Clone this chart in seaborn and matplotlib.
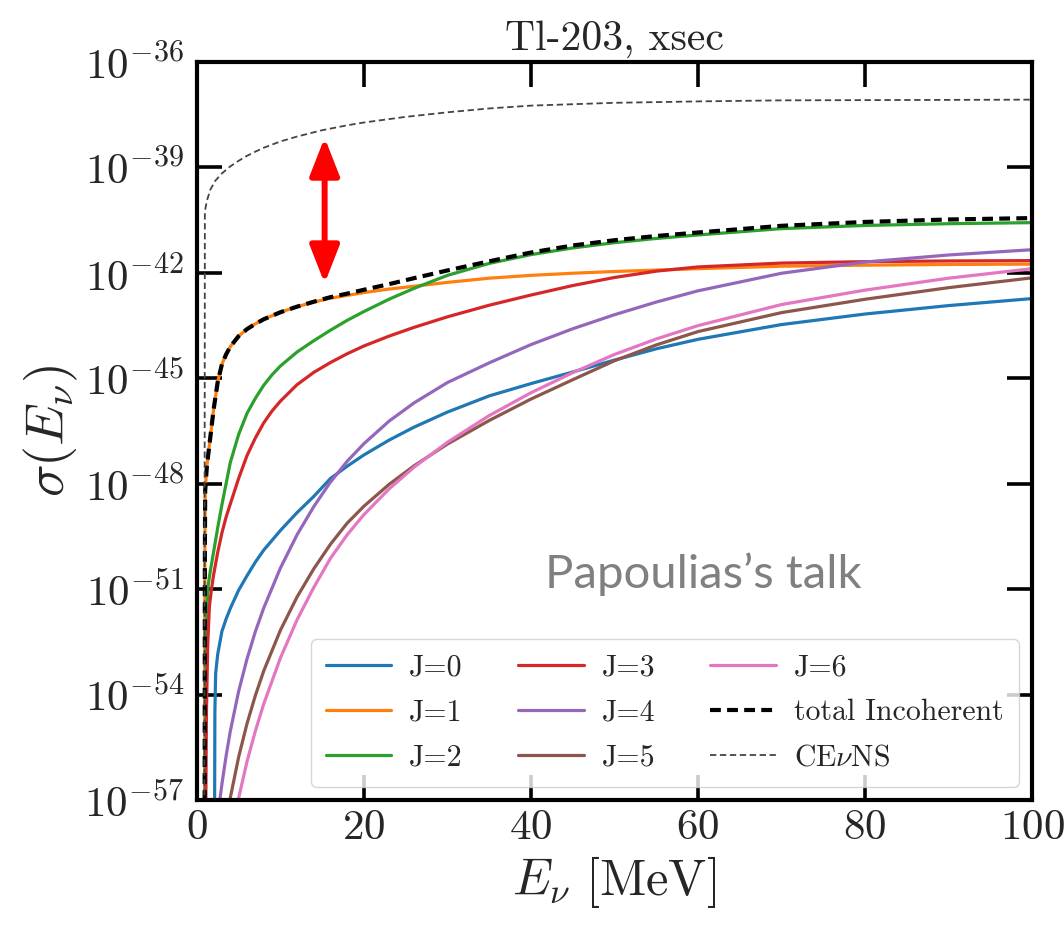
import numpy as np
import pandas as pd
import matplotlib
matplotlib.use("Agg")
import matplotlib.pyplot as plt
import seaborn as sns
from matplotlib.ticker import FixedLocator, FuncFormatter, NullLocator
from matplotlib.lines import Line2D

# Neutrino energies [MeV] and log10(sigma) for each multipole contribution
E_J0 = [2.12, 2.16, 2.25, 2.5, 3, 3.5, 4, 5, 6, 7, 8, 10, 12, 14, 16, 18, 20, 23, 26, 30,
        35, 40, 45, 50, 55, 60, 70, 80, 90, 100]
logsig_J0 = [-58, -54.5, -53.4, -52.85, -52.2, -51.85, -51.55, -51.03, -50.62, -50.23, -49.89,
             -49.33, -48.82, -48.36, -47.85, -47.5, -47.18, -46.76, -46.39, -45.96, -45.5,
             -45.15, -44.82, -44.48, -44.16, -43.89, -43.47, -43.17, -42.93, -42.73]

E_J1 = [0.93, 0.96, 1.0, 1.2, 1.5, 2, 2.5, 3, 3.5, 4, 5, 6, 7, 8, 10, 12, 14, 16, 18, 20, 23,
        26, 30, 35, 40, 45, 50, 55, 60, 70, 80, 90, 100]
logsig_J1 = [-58, -50.0, -48.2, -47.5, -46.9, -45.9, -45.1, -44.6, -44.32, -44.1, -43.8, -43.6,
             -43.45, -43.32, -43.12, -42.96, -42.83, -42.72, -42.64, -42.56, -42.46, -42.38,
             -42.27, -42.15, -42.07, -42.01, -41.96, -41.92, -41.88, -41.81, -41.78, -41.76,
             -41.75]

E_J2 = [1.0, 1.03, 1.1, 1.2, 1.35, 1.6, 2, 2.5, 3, 4, 5, 6, 7, 8, 9, 10, 12, 14, 16, 18, 20,
        23, 26, 30, 35, 40, 45, 50, 55, 60, 70, 80, 90, 100]
logsig_J2 = [-58, -55, -52.8, -51.6, -50.9, -50.5, -49.95, -49.25, -48.6, -47.4, -46.6, -46.0,
             -45.57, -45.2, -44.9, -44.65, -44.25, -43.93, -43.63, -43.35, -43.1, -42.75,
             -42.44, -42.07, -41.73, -41.48, -41.29, -41.14, -41.02, -40.92, -40.74, -40.65,
             -40.6, -40.57]

E_J3 = [1.05, 1.15, 1.3, 1.5, 1.75, 2, 2.5, 3, 3.5, 4, 5, 6, 7, 8, 9, 10, 12, 14, 16, 18, 20,
        23, 26, 30, 35, 40, 45, 50, 55, 60, 70, 80, 90, 100]
logsig_J3 = [-58, -54.5, -52.6, -51.5, -51.0, -50.6, -49.95, -49.4, -48.95, -48.58, -47.85,
             -47.2, -46.7, -46.27, -45.93, -45.65, -45.18, -44.83, -44.55, -44.3, -44.08,
             -43.8, -43.55, -43.25, -42.92, -42.63, -42.36, -42.13, -41.95, -41.83, -41.72,
             -41.68, -41.66, -41.65]

E_J4 = [2.65, 2.75, 3, 3.5, 4, 5, 6, 7, 8, 10, 12, 14, 16, 18, 20, 23, 26, 30, 35, 40, 45, 50,
        55, 60, 70, 80, 90, 100]
logsig_J4 = [-58, -57, -56.55, -55.75, -55.05, -53.91, -52.99, -52.21, -51.54, -50.4, -49.45,
             -48.65, -47.95, -47.36, -46.86, -46.22, -45.7, -45.12, -44.56, -44.04, -43.59,
             -43.19, -42.83, -42.51, -42.01, -41.69, -41.49, -41.34]

E_J5 = [3.85, 3.95, 5, 6, 7, 8, 10, 12, 14, 16, 18, 20, 23, 26, 30, 35, 40, 45, 50, 55, 60,
        70, 80, 90, 100]
logsig_J5 = [-58, -57, -55.78, -54.83, -54.03, -53.33, -52.17, -51.22, -50.42, -49.72, -49.12,
             -48.64, -48.02, -47.49, -46.87, -46.2, -45.59, -45.04, -44.5, -44.05, -43.67,
             -43.13, -42.75, -42.42, -42.14]

E_J6 = [4.85, 4.95, 6, 7, 8, 10, 12, 14, 16, 18, 20, 23, 26, 30, 35, 40, 45, 50, 55, 60, 70,
        80, 90, 100]
logsig_J6 = [-58, -57, -55.91, -55.04, -54.27, -52.96, -51.87, -50.95, -50.12, -49.45, -48.88,
             -48.15, -47.53, -46.82, -46.06, -45.41, -44.84, -44.32, -43.88, -43.5, -42.9,
             -42.49, -42.15, -41.88]

E_total = [0.93, 0.96, 1.0, 1.2, 1.5, 2, 2.5, 3, 3.5, 4, 5, 6, 7, 8, 10, 12, 14, 16, 18, 20,
           23, 26, 30, 35, 40, 45, 50, 55, 60, 70, 80, 90, 100]
logsig_total = [-58, -50.0, -48.2, -47.5, -46.9, -45.9, -45.1, -44.6, -44.32, -44.1, -43.8,
                -43.6, -43.45, -43.32, -43.12, -42.96, -42.82, -42.69, -42.59, -42.48, -42.32,
                -42.15, -41.93, -41.67, -41.42, -41.22, -41.07, -40.95, -40.85, -40.66, -40.55,
                -40.48, -40.44]

E_cevns = [0.9, 0.96, 1.2, 1.6, 2.2, 3, 4, 5, 6, 7, 8, 10, 12, 15, 18, 20, 25, 30, 35, 40, 50,
           60, 70, 85, 100]
logsig_cevns = [-58, -40.25, -39.95, -39.64, -39.38, -39.17, -38.97, -38.81, -38.67, -38.55,
                -38.44, -38.26, -38.12, -37.94, -37.8, -37.72, -37.56, -37.43, -37.32, -37.24,
                -37.16, -37.12, -37.09, -37.08, -37.07]

multipole_labels = ["J=0", "J=1", "J=2", "J=3", "J=4", "J=5", "J=6"]
multipole_colors = ["#1f77b4", "#ff7f0e", "#2ca02c", "#d62728", "#9467bd", "#8c564b", "#e377c2"]
y_tick_exponents = [-57, -54, -51, -48, -45, -42, -39, -36]
x_ticks = [0, 20, 40, 60, 80, 100]

energies = [E_J0, E_J1, E_J2, E_J3, E_J4, E_J5, E_J6]
logsigs = [logsig_J0, logsig_J1, logsig_J2, logsig_J3, logsig_J4, logsig_J5, logsig_J6]

frames = []
for lab, e, ls in zip(multipole_labels, energies, logsigs):
    frames.append(pd.DataFrame({"E": e, "sigma": np.power(10.0, ls), "J": lab}))
df = pd.concat(frames, ignore_index=True)

sns.set_style("ticks")
plt.rcParams.update({
    "font.family": ["cmr10", "DejaVu Serif"],
    "mathtext.fontset": "cm",
    "axes.unicode_minus": False,
    "axes.formatter.use_mathtext": True,
})

fig = plt.figure(figsize=(10.64, 9.26), dpi=100)
ax = fig.add_axes([0.185, 0.136, 0.785, 0.797])

total_dash = (0, (2.6, 1.5))
cevns_dash = (0, (3.5, 2.0))

sns.lineplot(data=df, x="E", y="sigma", hue="J", palette=multipole_colors,
             hue_order=multipole_labels, sort=False, estimator=None, legend=False,
             linewidth=2.3, ax=ax)
sns.lineplot(x=E_total, y=np.power(10.0, logsig_total), color="black", sort=False,
             estimator=None, linewidth=3.0, linestyle=total_dash, ax=ax)
sns.lineplot(x=E_cevns, y=np.power(10.0, logsig_cevns), color="#444444", sort=False,
             estimator=None, linewidth=1.3, linestyle=cevns_dash, ax=ax)

ax.set_yscale("log")
ax.set_xlim(0, 100)
ax.set_ylim(1e-57, 1e-36)
ax.xaxis.set_major_locator(FixedLocator(x_ticks))
ax.xaxis.set_minor_locator(NullLocator())
ax.yaxis.set_major_locator(FixedLocator([10.0 ** k for k in y_tick_exponents]))
ax.yaxis.set_minor_locator(NullLocator())
ax.yaxis.set_major_formatter(FuncFormatter(lambda v, p: r"$10^{%d}$" % int(round(np.log10(v)))))
ax.xaxis.set_major_formatter(FuncFormatter(lambda v, p: r"$%d$" % int(round(v))))

ax.tick_params(axis="both", which="major", direction="in", length=18, width=2.6,
               top=True, right=True, labelsize=31, color="black")
ax.tick_params(axis="y", pad=9)
ax.tick_params(axis="x", pad=7)
for sp in ax.spines.values():
    sp.set_linewidth(3.0)
    sp.set_color("black")

ax.set_xlabel(r"$E_\nu\ [\mathrm{MeV}]$", fontsize=36.5, labelpad=5)
ax.set_ylabel(r"$\sigma(E_\nu)$", fontsize=39, labelpad=3)
ax.set_title("Tl-203, xsec", fontsize=30, pad=9)

handles = [Line2D([], [], color=c, lw=2.3) for c in multipole_colors]
handles.append(Line2D([], [], color="black", lw=3.0, linestyle=total_dash))
handles.append(Line2D([], [], color="#444444", lw=1.3, linestyle=cevns_dash))
labels = multipole_labels + ["total Incoherent", r"CE$\nu$NS"]
leg = ax.legend(handles, labels, ncol=3, loc="lower right", fontsize=21.5, frameon=True,
                fancybox=True, framealpha=0.8, edgecolor="#cccccc",
                borderaxespad=0.45, columnspacing=1.85, handlelength=2.2,
                handletextpad=0.6, labelspacing=0.6, borderpad=0.5)

ax.annotate("", xy=(15.3, 10 ** -42.3), xytext=(15.3, 10 ** -38.15),
            arrowprops=dict(arrowstyle="<|-|>,head_length=2.3,head_width=0.9",
                            color="red", lw=4.3, shrinkA=0, shrinkB=0))

ax.text(0.417, 0.288, "Papoulias\u2019s talk", transform=ax.transAxes, fontsize=34,
        color="#808080", family="Lato", ha="left", va="baseline")

fig.savefig("out.png", dpi=100, facecolor="white")
